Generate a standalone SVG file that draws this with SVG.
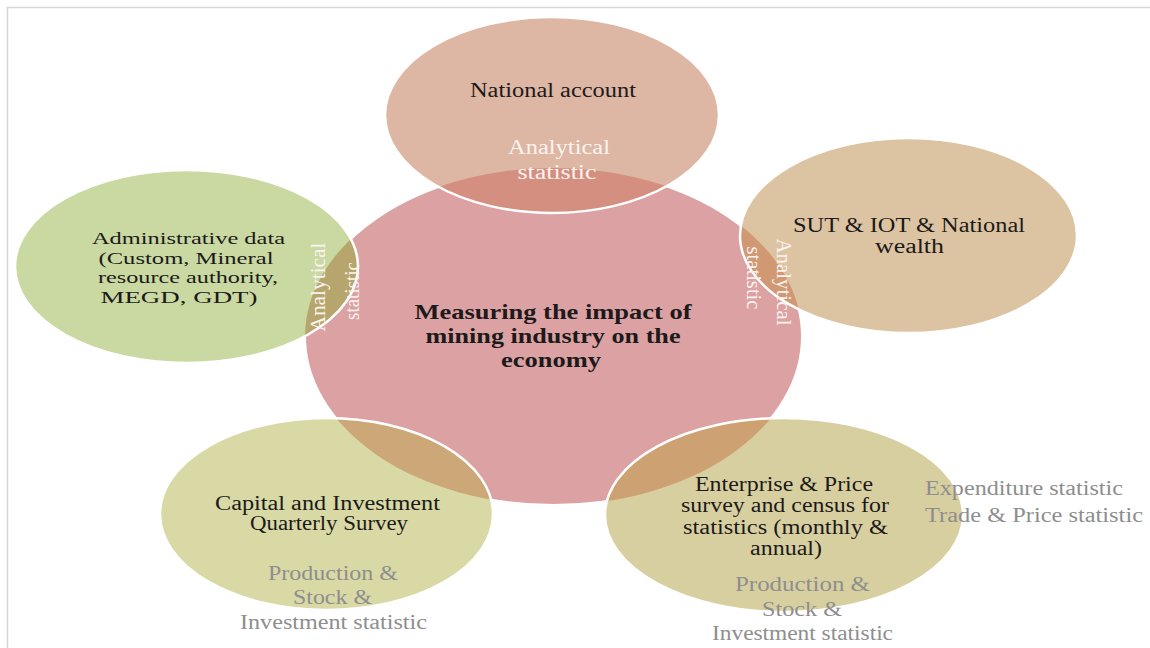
<svg xmlns="http://www.w3.org/2000/svg" width="1150" height="648" viewBox="0 0 1150 648" font-family="'Liberation Serif', 'Times New Roman', serif">
<style>
.t{font-family:"Liberation Serif","Times New Roman",serif;font-size:20px;fill:#1c1a1a;text-anchor:middle}
.b{font-weight:bold;font-size:21px}
.sm{font-size:17.5px}
.w{fill:#fbf3ef}
.g{fill:#8e8e8e}
.s{text-anchor:start}
.edge{fill:none;stroke:#ffffff;stroke-width:2.5}
.frame{stroke:#d6d6d6;stroke-width:1.5;fill:none}
</style>
<defs>
<clipPath id="cc"><ellipse cx="553.5" cy="336.5" rx="248.5" ry="168.5"/></clipPath>
</defs>
<rect width="1150" height="648" fill="#ffffff"/>
<path class="frame" d="M7.5,648 V7.5 H1150"/>

<g id="center">
<ellipse cx="553.5" cy="336.5" rx="248.5" ry="168.5" fill="#dca2a3" stroke="#ffffff" stroke-width="2"/>
<text class="t b" x="553" y="319" textLength="277" lengthAdjust="spacingAndGlyphs">Measuring the impact of</text>
<text class="t b" x="553" y="343" textLength="255" lengthAdjust="spacingAndGlyphs">mining industry on the</text>
<text class="t b" x="551" y="367" textLength="100" lengthAdjust="spacingAndGlyphs">economy</text>
</g>

<g id="national-account">
<ellipse cx="552" cy="115" rx="167" ry="98" fill="#ddb6a4"/>
<ellipse cx="552" cy="115" rx="167" ry="98" fill="#d48f81" clip-path="url(#cc)"/>
<ellipse class="edge" cx="552" cy="115" rx="167" ry="98"/>
<text class="t" x="553" y="97" textLength="166" lengthAdjust="spacingAndGlyphs">National account</text>
<text class="t w" x="559" y="154" textLength="102" lengthAdjust="spacingAndGlyphs">Analytical</text>
<text class="t w" x="557" y="179" textLength="79" lengthAdjust="spacingAndGlyphs">statistic</text>
</g>

<g id="administrative-data">
<ellipse cx="186.5" cy="266.5" rx="171.5" ry="96.5" fill="#c9d9a1"/>
<ellipse cx="186.5" cy="266.5" rx="171.5" ry="96.5" fill="#b6a66d" clip-path="url(#cc)"/>
<ellipse class="edge" cx="186.5" cy="266.5" rx="171.5" ry="96.5"/>
<text class="t sm" x="188.5" y="244" textLength="193" lengthAdjust="spacingAndGlyphs">Administrative data</text>
<text class="t sm" x="186" y="263.5" textLength="175" lengthAdjust="spacingAndGlyphs">(Custom, Mineral</text>
<text class="t sm" x="188" y="283" textLength="180" lengthAdjust="spacingAndGlyphs">resource authority,</text>
<text class="t sm" x="179" y="302.5" textLength="157" lengthAdjust="spacingAndGlyphs">MEGD, GDT)</text>
<text class="t w" transform="translate(318,287) rotate(-90)" y="7" textLength="89" lengthAdjust="spacingAndGlyphs">Analytical</text>
<text class="t w" transform="translate(352,291) rotate(-90)" y="7" textLength="58" lengthAdjust="spacingAndGlyphs">statistic</text>
</g>

<g id="sut-iot">
<ellipse cx="908.5" cy="235.5" rx="168.5" ry="97.5" fill="#dcc4a3"/>
<ellipse cx="908.5" cy="235.5" rx="168.5" ry="97.5" fill="#d19874" clip-path="url(#cc)"/>
<ellipse class="edge" cx="908.5" cy="235.5" rx="168.5" ry="97.5"/>
<text class="t" x="909" y="232" textLength="232" lengthAdjust="spacingAndGlyphs">SUT &amp; IOT &amp; National</text>
<text class="t" x="909.5" y="253" textLength="69" lengthAdjust="spacingAndGlyphs">wealth</text>
<text class="t w" transform="translate(784,282) rotate(90)" y="7" textLength="87" lengthAdjust="spacingAndGlyphs">Analytical</text>
<text class="t w" transform="translate(754,278) rotate(90)" y="7" textLength="63" lengthAdjust="spacingAndGlyphs">statistic</text>
</g>

<g id="capital-investment">
<ellipse cx="326.5" cy="514" rx="166.5" ry="96" fill="#d9d9a5"/>
<ellipse cx="326.5" cy="514" rx="166.5" ry="96" fill="#cca878" clip-path="url(#cc)"/>
<ellipse class="edge" cx="326.5" cy="514" rx="166.5" ry="96"/>
<text class="t" x="327.5" y="510" textLength="225" lengthAdjust="spacingAndGlyphs">Capital and Investment</text>
<text class="t" x="329" y="530" textLength="158" lengthAdjust="spacingAndGlyphs">Quarterly Survey</text>
<text class="t g" x="333" y="580" textLength="130" lengthAdjust="spacingAndGlyphs">Production &amp;</text>
<text class="t g" x="332.5" y="604" textLength="79" lengthAdjust="spacingAndGlyphs">Stock &amp;</text>
<text class="t g" x="333.5" y="629" textLength="187" lengthAdjust="spacingAndGlyphs">Investment statistic</text>
</g>

<g id="enterprise-price">
<ellipse cx="784" cy="515" rx="179" ry="97" fill="#d8cfa0"/>
<ellipse cx="784" cy="515" rx="179" ry="97" fill="#cda171" clip-path="url(#cc)"/>
<ellipse class="edge" cx="784" cy="515" rx="179" ry="97"/>
<text class="t" x="784" y="491" textLength="178" lengthAdjust="spacingAndGlyphs">Enterprise &amp; Price</text>
<text class="t" x="785" y="512" textLength="208" lengthAdjust="spacingAndGlyphs">survey and census for</text>
<text class="t" x="785.5" y="534" textLength="205" lengthAdjust="spacingAndGlyphs">statistics (monthly &amp;</text>
<text class="t" x="786" y="555" textLength="72" lengthAdjust="spacingAndGlyphs">annual)</text>
<text class="t g" x="802.5" y="591" textLength="135" lengthAdjust="spacingAndGlyphs">Production &amp;</text>
<text class="t g" x="802" y="616" textLength="80" lengthAdjust="spacingAndGlyphs">Stock &amp;</text>
<text class="t g" x="802.5" y="640" textLength="181" lengthAdjust="spacingAndGlyphs">Investment statistic</text>
<text class="t g s" x="925" y="495" textLength="198" lengthAdjust="spacingAndGlyphs">Expenditure statistic</text>
<text class="t g s" x="925" y="522" textLength="218" lengthAdjust="spacingAndGlyphs">Trade &amp; Price statistic</text>
</g>
</svg>
